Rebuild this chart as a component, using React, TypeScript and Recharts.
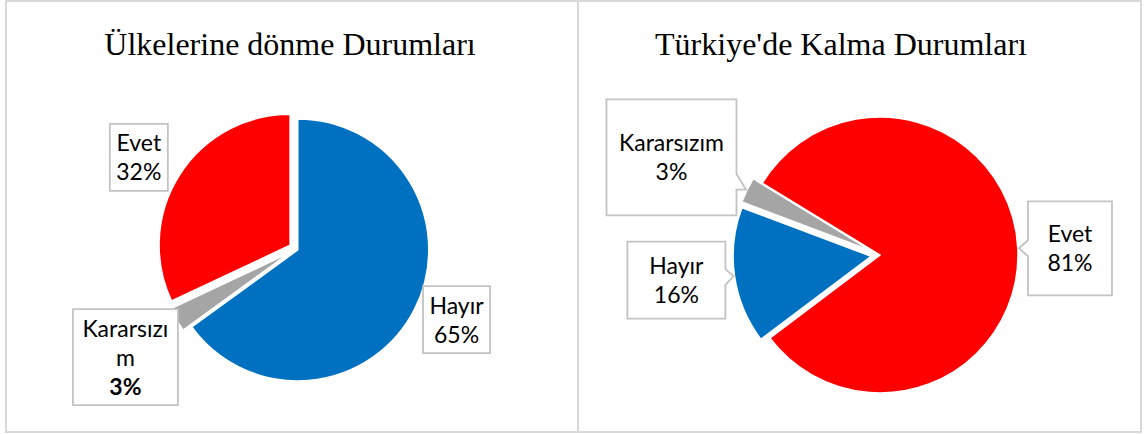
import React from 'react';
import { PieChart, Pie, Cell } from 'recharts';

// kategori sırası: Excel'deki dilim sırası (saat yönünde)
const categories = ['Hayır', 'Kararsızım', 'Evet'];
const donmeValues = [65, 3, 32];
const kalmaValues = [16, 3, 81];
const titles = ['Ülkelerine dönme Durumları', "Türkiye'de Kalma Durumları"];

const colors: Record<string, string> = {
  Hayır: '#0070C0',
  Kararsızım: '#A5A5A5',
  Evet: '#FF0000',
};

type LabelStyle = {
  dist: number;
  shift: [number, number];
  w: number;
  h: number;
  wrap?: number;
  boldValue?: boolean;
  pointer?: boolean;
};

type ChartCfg = {
  title: string;
  values: number[];
  left: number;
  width: number;
  borderLeft: boolean;
  titleX: number;
  cx: number;
  cy: number;
  r: number;
  startAngle: number;
  explode: number[];
  labels: LabelStyle[];
};

const charts: ChartCfg[] = [
  {
    title: titles[0],
    values: donmeValues,
    left: 5,
    width: 574,
    borderLeft: true,
    titleX: 285,
    cx: 291,
    cy: 249,
    r: 131,
    startAngle: 90,
    explode: [2, 8, 7],
    labels: [
      { dist: 173, shift: [4.6, -8.9], w: 67, h: 67 },
      { dist: 194, shift: [3.3, 5.3], w: 105, h: 96, wrap: 9, boldValue: true, pointer: true },
      { dist: 175, shift: [-3.5, 5.9], w: 58, h: 67 },
    ],
  },
  {
    title: titles[1],
    values: kalmaValues,
    left: 579,
    width: 563,
    borderLeft: false,
    titleX: 262,
    cx: 301,
    cy: 255,
    r: 138,
    startAngle: 217,
    explode: [9, 10, 0],
    labels: [
      { dist: 196, shift: [-0.7, -4.1], w: 98, h: 77, pointer: true },
      { dist: 220, shift: [-1.8, 3.3], w: 130, h: 116, pointer: true },
      { dist: 190, shift: [0.2, 2.6], w: 84, h: 94, pointer: true },
    ],
  },
];

const RAD = Math.PI / 180;
const HEIGHT = 433;
const LABEL_FONT = 'Lato, "Noto Sans", sans-serif';
const LINE_H = 29;

function polar(cx: number, cy: number, r: number, angle: number): [number, number] {
  return [cx + r * Math.cos(angle * RAD), cy - r * Math.sin(angle * RAD)];
}

// dilimlerin orta açıları (patlatma yönü için)
function midAngles(values: number[], start: number) {
  const total = values.reduce((a, b) => a + b, 0);
  let a = start;
  return values.map((v) => {
    const span = (v / total) * 360;
    const m = a - span / 2;
    a -= span;
    return m;
  });
}

function calloutPath(x0: number, y0: number, x1: number, y1: number, tip: [number, number] | null) {
  if (!tip) return `M${x0},${y0}H${x1}V${y1}H${x0}Z`;
  const [tx, ty] = tip;
  const mid = (y0 + y1) / 2;
  const yb = ty + 0.25 * (mid - ty);
  const b0 = Math.max(y0 + 3, yb - 8);
  const b1 = Math.min(y1 - 3, yb + 8);
  if (tx > x1) {
    return `M${x0},${y0}H${x1}V${b0}L${tx},${ty}L${x1},${b1}V${y1}H${x0}Z`;
  }
  if (tx < x0) {
    return `M${x0},${y0}H${x1}V${y1}H${x0}V${b1}L${tx},${ty}L${x0},${b0}Z`;
  }
  return `M${x0},${y0}H${x1}V${y1}H${x0}Z`;
}

function PiePanel({ cfg }: { cfg: ChartCfg }) {
  const rows = categories.map((name, i) => ({ name, value: cfg.values[i] }));
  const mids = midAngles(cfg.values, cfg.startAngle);
  const endAngle = cfg.startAngle - 360;

  const renderLabel = (props: any) => {
    const i: number = props.index;
    const st = cfg.labels[i];
    const mid: number = props.midAngle;
    const [scx, scy] = polar(cfg.cx, cfg.cy, cfg.explode[i], mid);
    const [bx0, by0] = polar(scx, scy, st.dist, mid);
    const bx = bx0 + st.shift[0];
    const by = by0 + st.shift[1];
    const x0 = bx - st.w / 2;
    const y0 = by - st.h / 2;
    const tip = st.pointer ? polar(scx, scy, cfg.r + 1, mid) : null;
    const name = rows[i].name;
    const nameLines = st.wrap ? [name.slice(0, st.wrap), name.slice(st.wrap)] : [name];
    const lines = [...nameLines, `${rows[i].value}%`];
    const n = lines.length;
    return (
      <g key={`lbl-${i}`}>
        <path
          d={calloutPath(x0, y0, x0 + st.w, y0 + st.h, tip)}
          fill="#fff"
          stroke="#c3c3c3"
          strokeWidth={1.8}
        />
        {lines.map((t, j) => (
          <text
            key={j}
            x={bx}
            y={by + (j - (n - 1) / 2) * LINE_H + 8.5}
            textAnchor="middle"
            fontFamily={LABEL_FONT}
            fontSize={23}
            fontWeight={st.boldValue && j === n - 1 ? 700 : 400}
            fill="#000"
          >
            {t}
          </text>
        ))}
      </g>
    );
  };

  return (
    <>
      <div
        style={{
          position: 'absolute',
          left: cfg.left,
          top: 0,
          width: cfg.width,
          height: HEIGHT,
          boxSizing: 'border-box',
          border: '2px solid #d9d9d9',
          borderLeft: cfg.borderLeft ? '2px solid #d9d9d9' : 'none',
        }}
      />
      <div style={{ position: 'absolute', left: cfg.left, top: 0 }}>
        <PieChart width={cfg.width} height={HEIGHT} margin={{ top: 0, right: 0, bottom: 0, left: 0 }}>
          {rows.map((_, k) => {
            const [pcx, pcy] = polar(cfg.cx, cfg.cy, cfg.explode[k], mids[k]);
            return (
              <Pie
                key={k}
                data={rows}
                dataKey="value"
                nameKey="name"
                cx={pcx}
                cy={pcy}
                outerRadius={cfg.r}
                startAngle={cfg.startAngle}
                endAngle={endAngle}
                isAnimationActive={false}
                label={false}
                labelLine={false}
              >
                {rows.map((d, i) => (
                  <Cell
                    key={i}
                    fill={i === k ? colors[d.name] : 'none'}
                    stroke={i === k ? '#fff' : 'none'}
                    strokeWidth={1.5}
                  />
                ))}
              </Pie>
            );
          })}
          <Pie
            data={rows}
            dataKey="value"
            nameKey="name"
            cx={cfg.cx}
            cy={cfg.cy}
            outerRadius={cfg.r}
            startAngle={cfg.startAngle}
            endAngle={endAngle}
            isAnimationActive={false}
            labelLine={false}
            label={renderLabel}
          >
            {rows.map((_, i) => (
              <Cell key={i} fill="none" stroke="none" />
            ))}
          </Pie>
        </PieChart>
      </div>
      <div
        style={{
          position: 'absolute',
          left: cfg.left + cfg.titleX - 300,
          top: 28,
          width: 600,
          textAlign: 'center',
          fontFamily: '"Liberation Serif", "Times New Roman", serif',
          fontSize: 32,
          lineHeight: '32px',
          color: '#000',
          whiteSpace: 'nowrap',
          pointerEvents: 'none',
        }}
      >
        {cfg.title}
      </div>
    </>
  );
}

export default function App() {
  return (
    <div
      style={{
        position: 'absolute',
        left: 0,
        top: 0,
        width: 1148,
        height: 434,
        background: '#fff',
        overflow: 'hidden',
      }}
    >
      {charts.map((c, i) => (
        <PiePanel key={i} cfg={c} />
      ))}
    </div>
  );
}
